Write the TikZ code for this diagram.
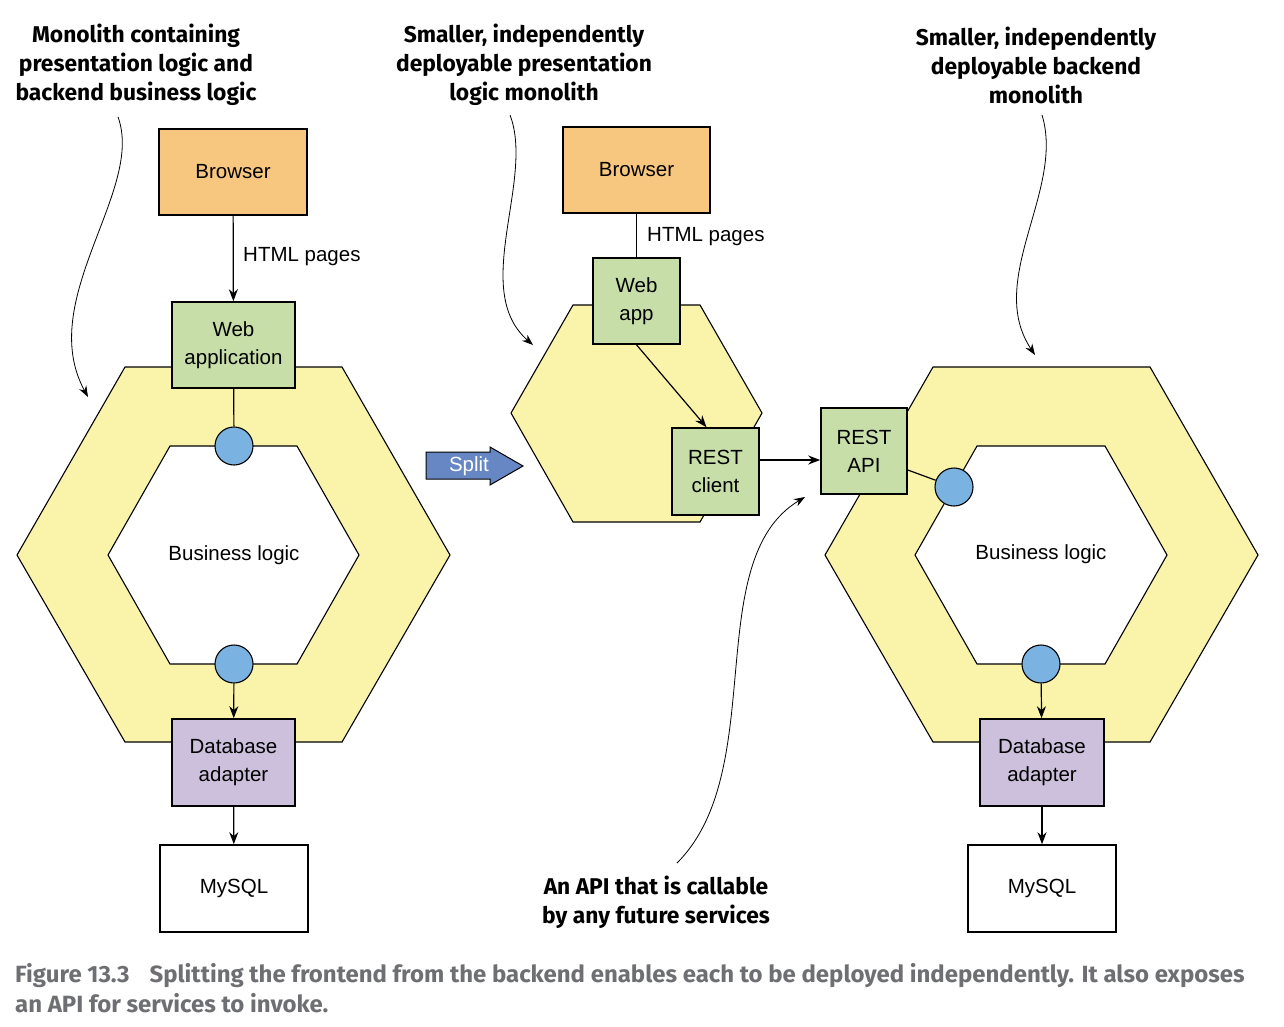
\documentclass[tikz,border=0pt]{standalone}
\usepackage{fontspec}
\setmainfont{Liberation Sans}
\newfontfamily\headfont{Fira Sans}
\newfontfamily\capfont[FakeStretch=1.02]{Fira Sans}
\usetikzlibrary{arrows.meta,calc}
\definecolor{orangeF}{HTML}{F7C67F}
\definecolor{greenF}{HTML}{C8DEA8}
\definecolor{purpleF}{HTML}{CCC0DC}
\definecolor{yellowF}{HTML}{FAF4AA}
\definecolor{blueC}{HTML}{7AB3E1}
\definecolor{splitF}{HTML}{6687C4}
\definecolor{capgrey}{HTML}{6E6F72}
\tikzset{
  box/.style={draw=black, line width=1.6pt, rectangle, inner sep=0pt, align=center,
    font=\fontsize{20.5}{28}\selectfont},
  hexo/.style={draw=black, line width=1.1pt, fill=yellowF, line join=miter},
  hexi/.style={draw=black, line width=1.1pt, fill=white},
  port/.style={draw=black, line width=1.1pt, circle, fill=blueC, minimum size=38pt, inner sep=0pt},
  arr/.style={line width=1.2pt, -{Stealth[length=12pt,width=9pt]}},
  plain/.style={line width=1.2pt},
  note/.style={line width=0.8pt, -{Stealth[length=11pt,width=8pt]}},
  head/.style={align=center, font=\headfont\bfseries\fontsize{22.8}{29}\selectfont},
  lbl/.style={font=\fontsize{20.5}{26}\selectfont, anchor=west, inner sep=0pt},
}
\begin{document}
\begin{tikzpicture}[x=1pt,y=-1pt]
\useasboundingbox (0,0) rectangle (1284,1026);
\fill[white] (0,0) rectangle (1284,1026);

% ---------- headings ----------
\node[head] (h1) at (136,65) {Monolith containing\\presentation logic and\\backend business logic};
\node[head] (h2) at (524,65) {Smaller, independently\\deployable presentation\\logic monolith};
\node[head] (h3) at (1036,65) {Smaller, independently\\deployable backend\\monolith};
\node[head] (h4) at (656,902) {An API that is callable\\by any future services};

% ---------- left monolith ----------
\draw[hexo] (17,555) -- (125,367) -- (342,367) -- (450,555) -- (342,742) -- (125,742) -- cycle;
\draw[hexi] (108,555) -- (170,446) -- (297,446) -- (359,555) -- (297,664) -- (170,664) -- cycle;
\node[font=\fontsize{20.5}{26}\selectfont] (bl1) at (234,555) {Business logic};
\node[box, fill=orangeF, minimum width=148pt, minimum height=86pt] (b1) at (233,172) {Browser};
\node[box, fill=greenF, minimum width=123pt, minimum height=86pt] (w1) at (233.5,345) {Web\\application};
\node[port] (c1) at (234,446) {};
\node[port] (c2) at (234,664) {};
\node[box, fill=purpleF, minimum width=123pt, minimum height=87pt] (d1) at (233.5,762.5) {Database\\adapter};
\node[box, fill=white, minimum width=148pt, minimum height=87pt] (m1) at (234,888.5) {MySQL};
\draw[arr] (b1) -- (w1);
\node[lbl] (l1) at (243,257) {HTML pages};
\draw[plain] (w1) -- (c1);
\draw[arr] (c2) -- (d1);
\draw[arr] (d1) -- (m1);

% ---------- split arrow ----------
\draw[line width=1pt, fill=splitF] (426,452) -- (490,452) -- (490,447) -- (523,466) -- (490,485) -- (490,479) -- (426,479) -- cycle;
\node[text=white, font=\fontsize{20.5}{26}\selectfont] (sp) at (469,466) {Split};

% ---------- middle monolith ----------
\draw[hexo] (511,413) -- (573,305) -- (700,305) -- (762,413) -- (700,522) -- (573,522) -- cycle;
\node[box, fill=orangeF, minimum width=147pt, minimum height=86pt] (b2) at (636.5,170) {Browser};
\node[box, fill=greenF, minimum width=87pt, minimum height=86pt] (w2) at (636.5,301) {Web\\app};
\node[box, fill=greenF, minimum width=87pt, minimum height=87pt] (rc) at (715.5,471.5) {REST\\client};
\draw[plain] (b2) -- (w2);
\node[lbl] (l2) at (647,237) {HTML pages};
\draw[arr] (w2.south) -- ([xshift=-9pt]rc.north);

% ---------- right monolith ----------
\draw[hexo] (825,555) -- (933,367) -- (1150,367) -- (1258,555) -- (1150,742) -- (933,742) -- cycle;
\draw[hexi] (915,555) -- (977,446) -- (1105,446) -- (1167,555) -- (1105,664) -- (977,664) -- cycle;
\node[font=\fontsize{20.5}{26}\selectfont] (bl2) at (1041,554) {Business logic};
\node[box, fill=greenF, minimum width=86pt, minimum height=86pt] (ra) at (864,451) {REST\\API};
\node[port] (c3) at (954,487) {};
\node[port] (c4) at (1041,664) {};
\node[box, fill=purpleF, minimum width=124pt, minimum height=87pt] (d2) at (1042,762.5) {Database\\adapter};
\node[box, fill=white, minimum width=148pt, minimum height=87pt] (m2) at (1042,888.5) {MySQL};
\draw[arr] ([yshift=11.5pt]rc.east) -- ([yshift=-9pt]ra.west);
\draw[plain] ([yshift=-19pt]ra.east) -- (c3);
\draw[arr] (c4) -- (d2);
\draw[arr] (d2) -- (m2);

% ---------- annotation curves ----------
\coordinate (a1s) at (118,117); \coordinate (a1e) at (88,397);
\coordinate (a2s) at (510,115); \coordinate (a2e) at (533,345);
\coordinate (a3s) at (1042,115); \coordinate (a3e) at (1035,355);
\coordinate (a4s) at (677,863); \coordinate (a4e) at (805,497);
\draw[note] (a1s) .. controls (145,190) and (35,300) .. (a1e);
\draw[note] (a2s) .. controls (535,180) and (470,290) .. (a2e);
\draw[note] (a3s) .. controls (1065,190) and (985,280) .. (a3e);
\draw[note] (a4s) .. controls (770,770) and (700,560) .. (a4e);

% ---------- caption ----------
\node[anchor=north west, inner sep=0pt, align=left, text=capgrey,
  font=\capfont\bfseries\fontsize{23.5}{30}\selectfont] (cap) at (15,963)
  {Figure 13.3\hspace{20pt}Splitting the frontend from the backend enables each to be deployed independently. It also exposes\\an API for services to invoke.};
\end{tikzpicture}
\end{document}
